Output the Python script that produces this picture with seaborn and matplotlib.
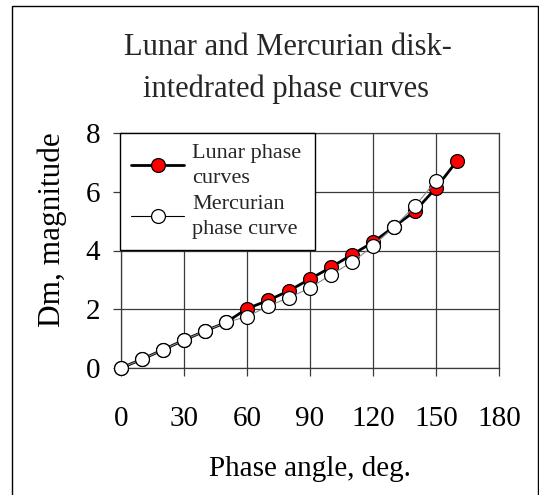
import matplotlib
matplotlib.use("Agg")
import matplotlib.pyplot as plt
import seaborn as sns
import pandas as pd
from matplotlib.patches import Rectangle
from matplotlib.lines import Line2D

# Data
lunar_angle = [0, 10, 20, 30, 40, 50, 60, 70, 80, 90, 100, 110, 120, 130, 140, 150, 160]
lunar_dm = [0.0, 0.30, 0.62, 0.95, 1.26, 1.55, 2.02, 2.30, 2.63, 3.03, 3.43, 3.86, 4.28, 4.81, 5.34, 6.13, 7.05]
merc_angle = [0, 10, 20, 30, 40, 50, 60, 70, 80, 90, 100, 110, 120, 130, 140, 150]
merc_dm = [0.0, 0.30, 0.62, 0.95, 1.26, 1.55, 1.75, 2.10, 2.40, 2.72, 3.18, 3.60, 4.15, 4.81, 5.51, 6.38]
x_ticks = [0, 30, 60, 90, 120, 150, 180]
y_ticks = [0, 2, 4, 6, 8]

title_lines = ["Lunar and Mercurian disk-", "intedrated phase curves"]
x_label = "Phase angle, deg."
y_label = "Dm, magnitude"
lunar_label = "Lunar phase\ncurves"
merc_label = "Mercurian\nphase curve"

sns.set_theme(style="white")
plt.rcParams["font.family"] = ["Liberation Serif", "DejaVu Serif"]

W, H = 539, 495
fig = plt.figure(figsize=(W / 100, H / 100), dpi=100)
fig.patch.set_facecolor("white")
ax = fig.add_axes([121 / W, 1 - 368 / H, (499 - 121) / W, (368 - 133) / H])
ax.set_facecolor("white")

lunar_df = pd.DataFrame({"angle": lunar_angle, "dm": lunar_dm})
merc_df = pd.DataFrame({"angle": merc_angle, "dm": merc_dm})

sns.lineplot(data=lunar_df, x="angle", y="dm", ax=ax, color="black", linewidth=2.0,
             marker="o", markersize=10, markerfacecolor="#ff0000", markeredgecolor="black",
             markeredgewidth=0.9, label=lunar_label, clip_on=False, zorder=3)
sns.lineplot(data=merc_df, x="angle", y="dm", ax=ax, color="#8a8a8a", linewidth=0.8,
             marker="o", markersize=10, markerfacecolor="white", markeredgecolor="black",
             markeredgewidth=0.9, label=merc_label, clip_on=False, zorder=4)

ax.set_xlim(0, 180)
ax.set_ylim(0, 8)
ax.set_xticks(x_ticks)
ax.set_yticks(y_ticks)
ax.grid(True, color="#3a3a3a", linewidth=0.9)
ax.set_axisbelow(True)
for s in ax.spines.values():
    s.set_color("#3a3a3a")
    s.set_linewidth(0.9)
ax.tick_params(axis="both", direction="out", length=6, width=0.9, color="#3a3a3a",
               labelsize=21, labelcolor="black", left=True, bottom=True)
ax.tick_params(axis="x", pad=21)
ax.tick_params(axis="y", pad=9)
ax.set_xlabel(x_label, fontsize=21, color="black")
ax.set_ylabel(y_label, fontsize=22.5, color="black")
ax.xaxis.set_label_coords(0.5, (368 - 456) / 235)
ax.yaxis.set_label_coords((67 - 121) / 378, (368 - 230) / 235)

h1 = Line2D([], [], color="black", linewidth=2.0, marker="o", markersize=10,
            markerfacecolor="#ff0000", markeredgecolor="black", markeredgewidth=0.9)
h2 = Line2D([], [], color="black", linewidth=0.8, marker="o", markersize=10,
            markerfacecolor="white", markeredgecolor="black", markeredgewidth=0.9)
leg = ax.legend([h1, h2], [lunar_label, merc_label], loc="upper left",
                bbox_to_anchor=(-1 / 378, 0, 195 / 378, 1), mode="expand",
                borderaxespad=0, fancybox=False, frameon=True,
                edgecolor="black", fontsize=16, handlelength=2.4, handletextpad=0.35,
                labelspacing=0.3, borderpad=0.5)
for t in leg.get_texts():
    t.set_linespacing(1.45)
leg.get_frame().set_linewidth(1.0)
leg.get_frame().set_alpha(1)
leg.set_zorder(10)

fig.text(288 / W, 1 - 55 / H, title_lines[0], ha="center", va="baseline", fontsize=22)
fig.text(286 / W, 1 - 97 / H, title_lines[1], ha="center", va="baseline", fontsize=22)

fig.patches.append(Rectangle((12 / W, -0.01), (538 - 12) / W, 1 - 6 / H + 0.01,
                             transform=fig.transFigure, fill=False, edgecolor="black",
                             linewidth=1.0))

fig.savefig("out.png", dpi=100)
